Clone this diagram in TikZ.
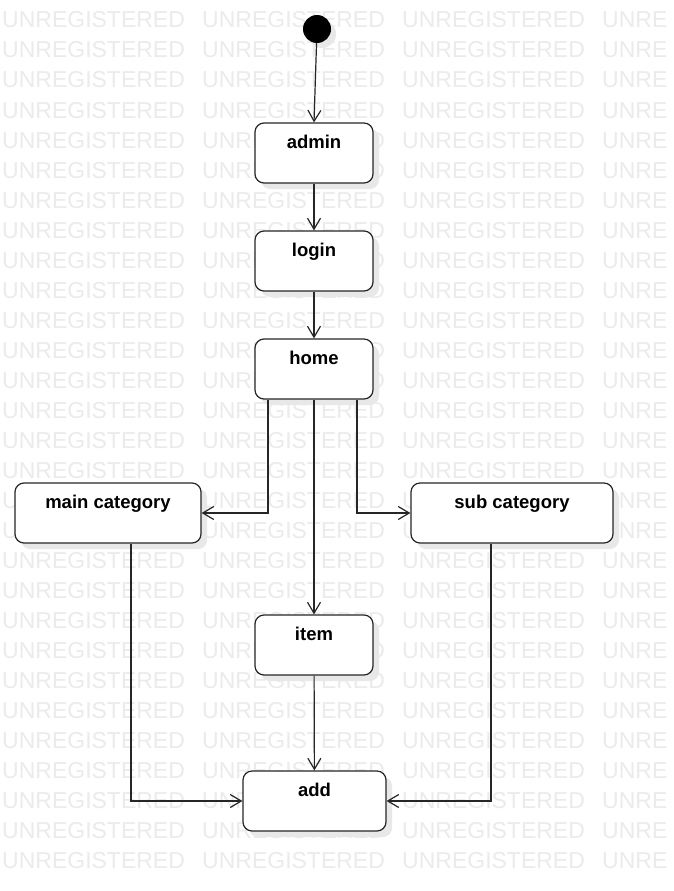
\documentclass[tikz,border=0pt]{standalone}
\usepackage{fontspec}
\setmainfont{Liberation Sans}
\usetikzlibrary{arrows.meta,shadows}
\begin{document}
\begin{tikzpicture}[x=1pt,y=-1pt,
  wm/.style={anchor=base west,inner sep=0pt,text=black!8,font=\fontsize{23}{23}\selectfont},
  statebox/.style={draw=black!85,line width=1.2pt,fill=white,rounded corners=9pt,
    minimum width=#1,inner xsep=0pt,inner ysep=0pt,text height=25pt,text depth=35pt,
    font=\bfseries\fontsize{18.5}{18.5}\selectfont,
    drop shadow={shadow xshift=6pt,shadow yshift=-6pt,fill=black!9,opacity=1}},
  startdot/.style={circle,fill=black,minimum size=28pt,inner sep=0pt,
    drop shadow={shadow xshift=5pt,shadow yshift=-5pt,fill=black!9,opacity=1}},
  flow/.style={draw=black!85,line width=1.2pt,-{Straight Barb[length=11pt,width=13pt,line width=1.2pt]}}]
\clip (0,0) rectangle (673,891);
\fill[white] (0,0) rectangle (673,891);
\foreach \r in {0,...,28}{
  \foreach \c in {0,...,2}{
    \node[wm] (w\r-\c) at (2+200*\c,28+30*\r) {UNREGISTERED};
  }
  \node[wm] (w\r-3) at (602,28+30*\r) {UNRE};
}
\node[startdot] (init) at (317,29) {};
\node[statebox=118pt] (admin) at (314,153) {admin};
\node[statebox=118pt] (login) at (314,261) {login};
\node[statebox=118pt] (home) at (314,369) {home};
\node[statebox=186pt] (main) at (108,513) {main category};
\node[statebox=202pt] (sub) at (512,513) {sub category};
\node[statebox=118pt] (item) at (314,645) {item};
\node[statebox=143pt] (add) at (314.5,801) {add};
\draw[flow] (init) -- (admin.north);
\draw[flow] (admin) -- (login);
\draw[flow] (login) -- (home);
\draw[flow] ([xshift=-46pt]home.south) |- (main.east);
\draw[flow] ([xshift=43pt]home.south) |- (sub.west);
\draw[flow] (home) -- (item);
\draw[flow] ([xshift=23pt]main.south) |- (add.west);
\draw[flow] ([xshift=-21pt]sub.south) |- (add.east);
\draw[flow] (item) -- (add);
\end{tikzpicture}
\end{document}
